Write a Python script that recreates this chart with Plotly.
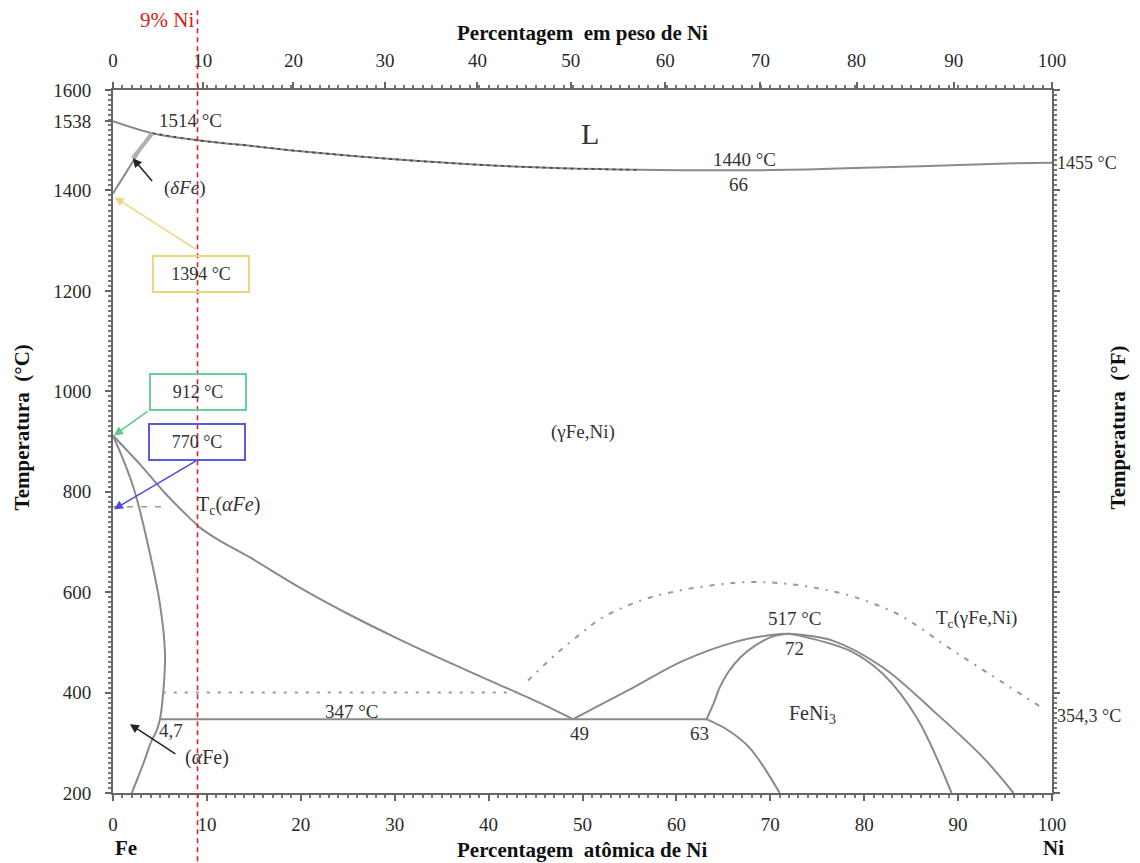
import plotly.graph_objects as go

# ---------------- data (atomic % Ni, temperature °C) ----------------
liq_x = [0, 4.2, 9, 15, 20, 30, 40, 48, 56, 66, 72, 78, 86, 96, 100]
liq_T = [1538, 1514, 1500, 1488, 1478, 1462, 1450, 1444, 1441, 1440, 1441, 1444, 1448, 1454, 1455]
liq_dot_x = [4.2, 9, 15, 20, 30, 40, 48, 56]
liq_dot_T = [1514, 1500, 1488, 1478, 1462, 1450, 1444, 1441]

delta_x = [0, 4.0]
delta_T = [1394, 1514]
wedge_x = [2.1, 4.2]
wedge_T = [1464, 1514]

alpha_x = [0, 2.17, 3.94, 5.0, 5.54, 5.36, 5.0, 4.6, 4.1, 3.3, 2.0]
alpha_T = [912, 809, 676, 576, 477, 403, 347, 322, 304, 262, 200]

gamma_x = [0, 2.9, 5.5, 7.7, 9.3, 11.4, 14.6, 19.9, 25.2, 30.6, 35.9, 41.2, 45.5, 49]
gamma_T = [912, 854, 798, 756, 728, 702, 669, 609, 555, 505, 459, 415, 379, 347]

eut_x = [4.9, 63.2]
eut_T = [347, 347]

fn_gam_x = [49, 55.4, 60.7, 66.1, 70.3, 72]
fn_gam_T = [347, 410, 463, 500, 515, 517]
fn_left_x = [63.2, 64.0, 64.6, 65.5, 66.8, 68.5, 70.3, 72]
fn_left_T = [347, 380, 410, 440, 470, 495, 512, 517]
fn_low_x = [63.2, 65.5, 67.8, 71]
fn_low_T = [347, 325, 290, 200]
fn_rin_x = [72, 73.2, 78.5, 82.0, 85.6, 89.3]
fn_rin_T = [517, 513, 483, 437, 350, 200]
fn_rout_x = [72, 76.7, 82.0, 87.4, 92.7, 95.9]
fn_rout_T = [517, 503, 450, 363, 270, 200]

h400_x = [5.3, 43.4]
h400_T = [400, 400]
tcg_x = [44.2, 47.2, 50, 52, 56, 60, 64, 67.5, 71, 75, 79, 83.8, 89.1, 94.5, 99.1]
tcg_T = [424, 477, 520, 548, 582, 602, 614, 620, 618, 608, 590, 554, 488, 423, 368]

tca_x = [0, 6]
tca_T = [770, 770]

ni_line = 9  # 9 % Ni marker

at_ticks = [0, 10, 20, 30, 40, 50, 60, 70, 80, 90, 100]
wt_ticks = [0, 10, 20, 30, 40, 50, 60, 70, 80, 90, 100]
T_ticks = [200, 400, 600, 800, 1000, 1200, 1400, 1600]
M_FE, M_NI = 55.845, 58.693


def wt_to_at(w):
    if w <= 0:
        return 0.0
    if w >= 100:
        return 100.0
    a = w / M_NI
    b = (100 - w) / M_FE
    return 100 * a / (a + b)


LINE = "#8a8a8a"
TXT = "#333333"
SERIF = "Liberation Serif"

fig = go.Figure()


def add(x, y, color=LINE, width=2, dash="solid", spline=True, smooth=1.0):
    fig.add_trace(go.Scatter(
        x=x, y=y, mode="lines", hoverinfo="skip",
        line=dict(color=color, width=width, dash=dash,
                  shape="spline" if spline else "linear", smoothing=smooth),
        showlegend=False))


add(liq_x, liq_T)
add(liq_dot_x, liq_dot_T, color="#444444", width=1.6, dash="3px,4px")
add(delta_x, delta_T, spline=False)
add(wedge_x, wedge_T, color="#b0b0b0", width=4, spline=False)
add(alpha_x, alpha_T)
add(gamma_x, gamma_T, smooth=0.7)
add(eut_x, eut_T, spline=False)
add(fn_gam_x, fn_gam_T)
add(fn_left_x, fn_left_T)
add(fn_low_x, fn_low_T)
add(fn_rin_x, fn_rin_T)
add(fn_rout_x, fn_rout_T)
add(h400_x, h400_T, color="#999999", width=2, dash="3px,8px,3px,8px", spline=False)
add(tcg_x, tcg_T, color="#999999", width=2, dash="5px,7px,2px,7px")
add(tca_x, tca_T, color="#999999", width=1.5, dash="6px,8px", spline=False)

# dummy traces for top and right axes
fig.add_trace(go.Scatter(x=[0, 100], y=[200, 200], mode="markers", marker=dict(opacity=0),
                         xaxis="x2", yaxis="y", hoverinfo="skip", showlegend=False))
fig.add_trace(go.Scatter(x=[0, 100], y=[200, 200], mode="markers", marker=dict(opacity=0),
                         xaxis="x", yaxis="y2", hoverinfo="skip", showlegend=False))

# red 9% Ni line
fig.add_shape(type="line", xref="x", yref="paper", x0=ni_line, x1=ni_line,
              y0=-0.11, y1=1.115, line=dict(color="#e0202a", width=1.6, dash="5px,4px"))
fig.add_annotation(x=ni_line, xref="x", y=1.0996, yref="paper", yanchor="middle",
                   text="9% Ni", showarrow=False, xanchor="right", xshift=-2,
                   font=dict(family=SERIF, size=21, color="#d42020"))

# text labels inside the diagram
labels = [
    ("1514 °C", 8.2, 1540, 19),
    ("(<i>δFe</i>)", 7.7, 1404, 19),
    ("L", 50.8, 1514, 30),
    ("1440 °C", 67.3, 1461, 19),
    ("66", 66.6, 1412, 19),
    ("(γFe,Ni)", 50.0, 918, 19),
    ("T<sub>c</sub>(<i>αFe</i>)", 12.3, 772, 20),
    ("347 °C", 25.5, 363, 19),
    ("4,7", 6.2, 324, 19),
    ("(<i>α</i>Fe)", 10.0, 270, 20),
    ("49", 49.7, 318, 19),
    ("63", 62.5, 318, 19),
    ("517 °C", 72.6, 548, 19),
    ("72", 72.6, 487, 19),
    ("FeNi<sub>3</sub>", 74.5, 357, 20),
    ("T<sub>c</sub>(γFe,Ni)", 92.0, 546, 19),
]
for t, x, y, s in labels:
    fig.add_annotation(x=x, y=y, text=t, showarrow=False,
                       font=dict(family=SERIF, size=s, color=TXT))

# boxes with arrows
boxes = [
    ("1394 °C", 9.37, 1233, "#ecd67c"),
    ("912 °C", 9.0, 998, "#6ccf98"),
    ("770 °C", 8.95, 900, "#5a5ae0"),
]
for t, x, y, c in boxes:
    fig.add_annotation(x=x, y=y, text=t, showarrow=False, width=92, height=32,
                       bordercolor=c, borderwidth=2, bgcolor="rgba(255,255,255,0)",
                       font=dict(family=SERIF, size=18, color=TXT))

arrows = [
    (0.2, 1386, 8.95, 1281, "#ecd67c"),
    (0.1, 912, 3.83, 962, "#5fc88e"),
    (0.1, 765, 9.0, 863, "#4a4ae0"),
    (2.1, 1464, 4.3, 1416, "#222222"),
    (1.8, 337, 6.8, 276, "#222222"),
]
for x, y, ax, ay, c in arrows:
    fig.add_annotation(x=x, y=y, ax=ax, ay=ay, axref="x", ayref="y", xref="x", yref="y",
                       text="", showarrow=True, arrowhead=2, arrowsize=1.2, arrowwidth=1.5,
                       arrowcolor=c)

# right side labels
for t, y in [("1455 °C", 1455), ("354,3 °C", 354.3)]:
    fig.add_annotation(x=1, xref="paper", y=y, yref="y", text=t, showarrow=False,
                       xanchor="left", xshift=3, font=dict(family=SERIF, size=18, color=TXT))

# axis titles
BOLD = dict(family=SERIF, size=21, color="#111111")
fig.add_annotation(x=0.5, xref="paper", y=1, yref="paper", yshift=57, yanchor="middle",
                   text="<b>Percentagem\u00a0 em peso de Ni</b>", showarrow=False, font=BOLD)
fig.add_annotation(x=0.5, xref="paper", y=0, yref="paper", yshift=-57, yanchor="middle",
                   text="<b>Percentagem\u00a0 atômica de Ni</b>", showarrow=False, font=BOLD)
fig.add_annotation(x=0, xref="paper", xshift=-91, xanchor="center", y=0.52, yref="paper",
                   text="<b>Temperatura\u00a0 (°C)</b>", textangle=-90, showarrow=False, font=BOLD)
fig.add_annotation(x=1, xref="paper", xshift=66, xanchor="center", y=0.52, yref="paper",
                   text="<b>Temperatura\u00a0 (°F)</b>", textangle=-90, showarrow=False, font=BOLD)
fig.add_annotation(x=0, xref="paper", y=0, yref="paper", yshift=-55, yanchor="middle",
                   text="<b>Fe</b>", showarrow=False, font=BOLD)
fig.add_annotation(x=1, xref="paper", xshift=14, y=0, yref="paper", yshift=-55, yanchor="middle",
                   text="<b>Ni</b>", showarrow=False, font=BOLD)

AX = dict(showline=True, linecolor="#666666", linewidth=2, showgrid=False, zeroline=False,
          ticks="outside", ticklen=6, tickwidth=1.5, tickcolor="#666666",
          tickfont=dict(family=SERIF, size=19, color="#2a2a2a"))
MINOR_X = dict(dtick=1, ticklen=3, tickcolor="#777777", ticks="outside")
MINOR_Y = dict(dtick=10, ticklen=3, tickcolor="#777777", ticks="outside")

fig.update_layout(
    width=1140, height=863, margin=dict(l=113, r=88, t=90, b=70),
    paper_bgcolor="white", plot_bgcolor="white",
    xaxis=dict(range=[0, 100], tickvals=at_ticks, ticktext=[str(v) for v in at_ticks],
               minor=MINOR_X, ticklabelstandoff=7, **AX),
    xaxis2=dict(range=[0, 100], overlaying="x", side="top", anchor="y",
                tickvals=[wt_to_at(w) for w in wt_ticks], ticktext=[str(w) for w in wt_ticks],
                minor=MINOR_X, ticklabelstandoff=7, **AX),
    yaxis=dict(range=[200, 1600], tickvals=T_ticks + [1538], ticktext=[str(v) for v in T_ticks] + ["1538"],
               minor=MINOR_Y, ticklabelstandoff=10, **AX),
    yaxis2=dict(range=[200, 1600], overlaying="y", side="right", anchor="x",
                tickvals=T_ticks, showticklabels=False, minor=MINOR_Y, **AX),
)

fig.write_html("out.html")
